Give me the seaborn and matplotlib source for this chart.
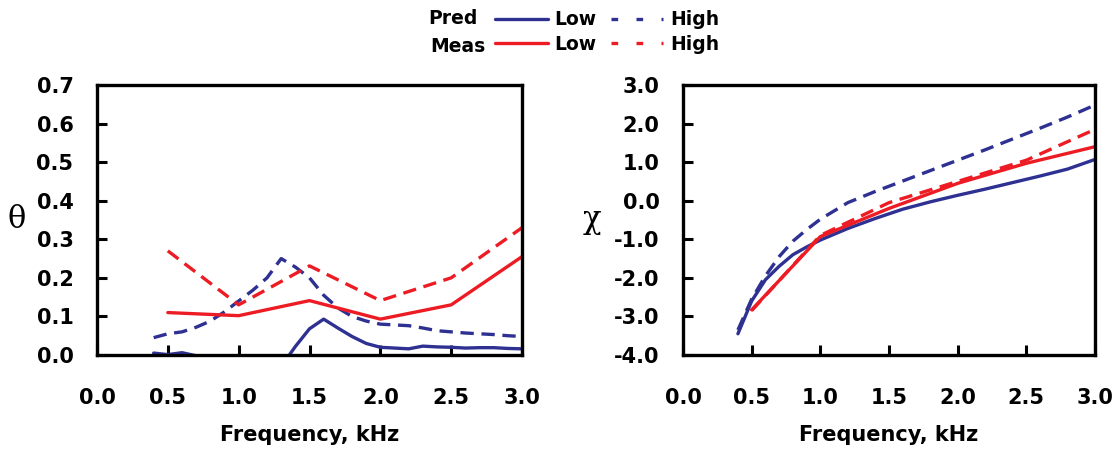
import numpy as np
import matplotlib
matplotlib.use("Agg")
import matplotlib.pyplot as plt
from matplotlib.lines import Line2D
import seaborn as sns

# theta panel, predicted curves (fine frequency grid)
freq_pred_theta = [0.4, 0.5, 0.6, 0.7, 0.8, 0.9, 1.0, 1.1, 1.2, 1.3, 1.4, 1.5, 1.6, 1.7,
                   1.8, 1.9, 2.0, 2.1, 2.2, 2.3, 2.4, 2.5, 2.6, 2.7, 2.8, 2.9, 3.0]
theta_pred_low = [0.005, 0.001, 0.006, -0.002, -0.008, -0.02, -0.035, -0.045, -0.045, -0.03,
                  0.022, 0.068, 0.093, 0.07, 0.048, 0.03, 0.02, 0.018, 0.016, 0.023, 0.021,
                  0.02, 0.018, 0.019, 0.019, 0.017, 0.016]
theta_pred_high = [0.045, 0.055, 0.06, 0.072, 0.088, 0.112, 0.14, 0.168, 0.2, 0.25, 0.228,
                   0.2, 0.155, 0.122, 0.1, 0.088, 0.08, 0.078, 0.076, 0.07, 0.063, 0.06,
                   0.057, 0.055, 0.053, 0.05, 0.048]

# measured points
freq_meas = [0.5, 1.0, 1.5, 2.0, 2.5, 3.0]
theta_meas_low = [0.11, 0.102, 0.141, 0.093, 0.13, 0.255]
theta_meas_high = [0.27, 0.13, 0.231, 0.141, 0.2, 0.33]

# chi panel
freq_pred_chi = [0.4, 0.5, 0.6, 0.7, 0.8, 0.9, 1.0, 1.2, 1.4, 1.6, 1.8, 2.0, 2.2, 2.4, 2.6, 2.8, 3.0]
chi_pred_low = [-3.45, -2.6, -2.05, -1.7, -1.4, -1.2, -1.02, -0.72, -0.46, -0.22, -0.03, 0.14,
                0.3, 0.47, 0.64, 0.82, 1.07]
chi_pred_high = [-3.35, -2.55, -1.95, -1.45, -1.05, -0.75, -0.48, -0.05, 0.24, 0.51, 0.78,
                 1.05, 1.32, 1.6, 1.88, 2.17, 2.48]
chi_meas_low = [-2.83, -0.93, -0.2, 0.45, 0.97, 1.4]
chi_meas_high = [-2.85, -0.9, -0.05, 0.5, 1.05, 1.85]

x_ticks = [0.0, 0.5, 1.0, 1.5, 2.0, 2.5, 3.0]
theta_ticks = [0.0, 0.1, 0.2, 0.3, 0.4, 0.5, 0.6, 0.7]
chi_ticks = [-4.0, -3.0, -2.0, -1.0, 0.0, 1.0, 2.0, 3.0]

BLUE = '#2E3192'
RED = '#ED1C24'
DASH = (0, (4, 2.3))
LW = 2.4

sns.set_style("ticks")
plt.rcParams['font.family'] = ['DejaVu Sans']
plt.rcParams['font.weight'] = 'bold'
plt.rcParams['text.color'] = 'black'
plt.rcParams['axes.labelcolor'] = 'black'
plt.rcParams['xtick.color'] = 'black'
plt.rcParams['ytick.color'] = 'black'

fig = plt.figure(figsize=(11.2, 4.58), dpi=100)
ax1 = fig.add_axes([97 / 1120, 1 - 355 / 458, 425 / 1120, 270 / 458])
ax2 = fig.add_axes([683 / 1120, 1 - 355 / 458, 412 / 1120, 270 / 458])

sns.lineplot(x=freq_pred_theta, y=theta_pred_low, ax=ax1, color=BLUE, lw=LW)
sns.lineplot(x=freq_pred_theta, y=theta_pred_high, ax=ax1, color=BLUE, lw=LW, linestyle=DASH)
sns.lineplot(x=freq_meas, y=theta_meas_low, ax=ax1, color=RED, lw=LW)
sns.lineplot(x=freq_meas, y=theta_meas_high, ax=ax1, color=RED, lw=LW, linestyle=DASH)

sns.lineplot(x=freq_pred_chi, y=chi_pred_low, ax=ax2, color=BLUE, lw=LW)
sns.lineplot(x=freq_pred_chi, y=chi_pred_high, ax=ax2, color=BLUE, lw=LW, linestyle=DASH)
sns.lineplot(x=freq_meas, y=chi_meas_low, ax=ax2, color=RED, lw=LW)
sns.lineplot(x=freq_meas, y=chi_meas_high, ax=ax2, color=RED, lw=LW, linestyle=DASH)

for ax, yt, ylab, lx in [(ax1, theta_ticks, 'θ', -0.188), (ax2, chi_ticks, 'χ', -0.221)]:
    ax.set_xlim(0, 3.0)
    ax.set_ylim(yt[0], yt[-1])
    ax.set_xticks(x_ticks)
    ax.set_yticks(yt)
    ax.set_xticklabels([f'{v:.1f}' for v in x_ticks])
    ax.set_yticklabels([f'{v:.1f}' for v in yt])
    ax.tick_params(direction='in', length=7, width=2.2, labelsize=15, colors='black')
    ax.tick_params(axis='x', pad=24)
    ax.tick_params(axis='y', pad=17)
    for s in ax.spines.values():
        s.set_visible(True)
        s.set_linewidth(2.4)
        s.set_color('black')
    ax.set_xlabel('Frequency, kHz', fontsize=15, fontweight='bold', labelpad=12)
    ax.set_ylabel(ylab, fontsize=22, fontweight='normal', family=['DejaVu Serif'],
                  rotation=0, va='center', ha='center')
    ax.yaxis.set_label_coords(lx, 0.5)

# legend: group names as text, line keys via legend
fig.text(478 / 1120, 1 - 18 / 458, 'Pred', ha='right', va='center', fontsize=13.5, fontweight='bold')
fig.text(485 / 1120, 1 - 46 / 458, 'Meas', ha='right', va='center', fontsize=13.5, fontweight='bold')
KEY_DASH = (0, (2, 5.5))
handles = [Line2D([], [], color=BLUE, lw=LW), Line2D([], [], color=RED, lw=LW),
           Line2D([], [], color=BLUE, lw=LW, linestyle=KEY_DASH),
           Line2D([], [], color=RED, lw=LW, linestyle=KEY_DASH)]
labels = ['Low', 'Low', 'High', 'High']
fig.legend(handles, labels, ncol=2, loc='center left', bbox_to_anchor=(495 / 1120, 1 - 32 / 458),
           frameon=False, prop={'weight': 'bold', 'size': 13.5}, handlelength=2.8,
           handletextpad=0.37, columnspacing=0.75, labelspacing=0.3,
           borderpad=0, borderaxespad=0)

fig.savefig('out.png', dpi=100)
